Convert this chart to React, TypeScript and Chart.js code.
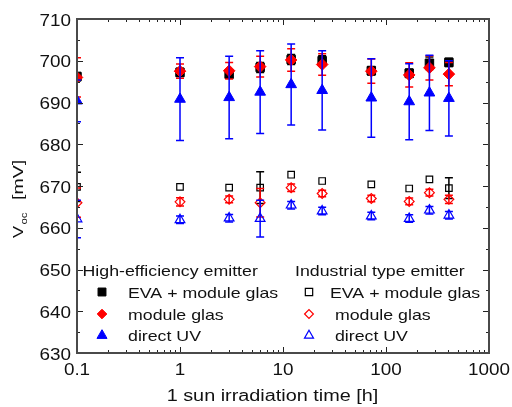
import React, { useEffect, useRef } from 'react';
import { Chart, registerables } from 'chart.js';
import { drawPoint } from 'chart.js/helpers';

Chart.register(...registerables);

// ---- data ----
const times = [0.1, 1, 3, 6, 12, 24, 72, 168, 264, 408];

const heEva = [696.2, 697.2, 696.8, 698.4, 700.3, 700.0, 697.6, 697.0, 699.4, 699.6];
const heEvaErr = [1.0, 1.0, 1.0, 1.2, 1.2, 1.2, 1.0, 1.0, 1.5, 1.0];
const heGlas = [696.0, 697.5, 697.6, 698.6, 700.2, 699.1, 697.5, 696.6, 698.3, 696.8];
const heGlasErr = [4.7, 1.7, 2.0, 2.5, 2.7, 2.6, 2.9, 2.9, 2.9, 2.8];
const heUV = [690.4, 690.8, 691.2, 692.5, 694.3, 692.9, 691.1, 690.2, 692.3, 691.0];
const heUVErr = [5.0, 9.9, 9.9, 9.9, 9.7, 9.5, 9.4, 9.1, 9.0, 9.0];

const indEva = [669.8, 669.8, 669.6, 669.6, 672.7, 671.2, 670.4, 669.4, 671.6, 669.5];
const indEvaErr = [3.5, 0, 0, 3.8, 0, 0, 0, 0, 0, 2.5];
const indGlas = [666.0, 666.2, 666.8, 666.0, 669.6, 668.2, 667.0, 666.3, 668.4, 666.8];
const indGlasErr = [3.5, 1.0, 0.8, 3.4, 0.9, 0.8, 0.8, 0.8, 0.8, 1.0];
const indUV = [662.1, 661.9, 662.3, 662.2, 665.4, 664.0, 662.8, 662.2, 664.2, 663.0];
const indUVErr = [4.5, 0.9, 0.9, 4.4, 0.9, 0.9, 0.9, 0.9, 0.9, 0.9];

const xLabelValues = [0.1, 1, 10, 100, 1000];
const xLabelTexts = ['0.1', '1', '10', '100', '1000'];
const yLabelValues = [630, 640, 650, 660, 670, 680, 690, 700, 710];
const groupTitles = ['High-efficiency emitter', 'Industrial type emitter'];
const seriesNames = ['EVA + module glas', 'module glas', 'direct UV'];
const xTitle = '1 sun irradiation time [h]';

const FONT = '"Liberation Sans", Arial, Helvetica, sans-serif';

function sText(ctx: CanvasRenderingContext2D, text: string, x: number, y: number, size: number, sx: number, align: string) {
  ctx.save();
  ctx.font = `${size}px ${FONT}`;
  const w = ctx.measureText(text).width * sx;
  const left = align === 'center' ? x - w / 2 : align === 'right' ? x - w : x;
  ctx.translate(left, y);
  ctx.scale(sx, 1);
  ctx.textAlign = 'left';
  ctx.textBaseline = 'alphabetic';
  ctx.fillStyle = '#111';
  ctx.fillText(text, 0, 0);
  ctx.restore();
}

const isPow10 = (v: number) => Math.abs(Math.log10(v) - Math.round(Math.log10(v))) < 1e-6;

function mk(group: number, idx: number, vals: number[], errs: number[], style: string, color: string, filled: boolean, radius: number) {
  return {
    label: groupTitles[group] + ': ' + seriesNames[idx],
    group, idx,
    data: times.map((t, i) => ({ x: t, y: vals[i] })),
    errors: errs,
    pointStyle: style,
    pointRadius: radius,
    pointHoverRadius: radius,
    borderColor: color,
    backgroundColor: filled ? color : 'rgba(0,0,0,0)',
    pointBorderWidth: filled ? 1 : 1.2,
    showLine: false,
    clip: 0,
  };
}

const errorBarPlugin = {
  id: 'errbars',
  afterDatasetDraw(chart: any, args: any) {
    const ds = chart.data.datasets[args.index];
    if (!ds.errors) return;
    const { ctx, chartArea: a, scales } = chart;
    const x = scales.x, y = scales.y;
    ctx.save();
    ctx.beginPath();
    ctx.rect(a.left, a.top, a.right - a.left, a.bottom - a.top);
    ctx.clip();
    ctx.strokeStyle = ds.borderColor;
    ctx.lineWidth = 1.5;
    ds.data.forEach((p: any, i: number) => {
      const e = ds.errors[i];
      if (!e) return;
      const px = x.getPixelForValue(p.x);
      const y1 = y.getPixelForValue(p.y + e);
      const y2 = y.getPixelForValue(p.y - e);
      ctx.beginPath();
      ctx.moveTo(px, y1); ctx.lineTo(px, y2);
      ctx.moveTo(px - 4, y1); ctx.lineTo(px + 4, y1);
      ctx.moveTo(px - 4, y2); ctx.lineTo(px + 4, y2);
      ctx.stroke();
    });
    ctx.restore();
  },
};

const framePlugin = {
  id: 'frame',
  beforeDraw(chart: any) {
    const { ctx, width, height } = chart;
    ctx.save();
    ctx.fillStyle = '#fff';
    ctx.fillRect(0, 0, width, height);
    ctx.restore();
  },
  afterDraw(chart: any) {
    const { ctx, chartArea: a, scales } = chart;
    const x = scales.x, y = scales.y;
    ctx.save();
    // tick marks (inward, mirrored)
    ctx.strokeStyle = '#222';
    ctx.lineWidth = 1;
    ctx.beginPath();
    x.ticks.forEach((t: any) => {
      const px = Math.round(x.getPixelForValue(t.value)) + 0.5;
      const L = isPow10(t.value) ? 6 : 3;
      ctx.moveTo(px, a.bottom); ctx.lineTo(px, a.bottom - L);
      ctx.moveTo(px, a.top); ctx.lineTo(px, a.top + L);
    });
    y.ticks.forEach((t: any) => {
      const py = Math.round(y.getPixelForValue(t.value)) + 0.5;
      const L = t.value % 10 === 0 ? 6 : 3;
      ctx.moveTo(a.left, py); ctx.lineTo(a.left + L, py);
      ctx.moveTo(a.right, py); ctx.lineTo(a.right - L, py);
    });
    ctx.stroke();
    // frame
    ctx.strokeStyle = '#4a4a4a';
    ctx.lineWidth = 2;
    ctx.strokeRect(a.left, a.top, a.right - a.left, a.bottom - a.top);
    ctx.restore();

    // tick labels
    yLabelValues.forEach((v) => {
      const py = y.getPixelForValue(v);
      sText(ctx, String(v), a.left - 6, py + 6.5, 16, 1.18, 'right');
    });
    xLabelValues.forEach((v, i) => {
      const px = x.getPixelForValue(v);
      sText(ctx, xLabelTexts[i], px, a.bottom + 22, 16, 1.18, 'center');
    });

    // x title
    sText(ctx, xTitle, a.left + 195.5, 400.5, 16, 1.24, 'center');

    // y title (rotated, with subscript)
    ctx.save();
    ctx.translate(23, 238);
    ctx.rotate(-Math.PI / 2);
    sText(ctx, 'V', 0, 0, 15, 1.22, 'left');
    sText(ctx, 'oc', 13.5, 4.2, 9.5, 1.2, 'left');
    sText(ctx, '[mV]', 38, 0, 15, 1.3, 'left');
    ctx.restore();

    // legend
    const colX = [a.left + 5.5, a.left + 218];
    const markX = [a.left + 25, a.left + 232];
    const textX = [a.left + 51, a.left + 253];
    const titleBase = 276;
    const rowBase = [297.5, 319.5, 341];
    for (let g = 0; g < 2; g++) {
      sText(ctx, groupTitles[g], colX[g], titleBase, 14.8, 1.2, 'left');
    }
    chart.data.datasets.forEach((ds: any) => {
      const g = ds.group, r = ds.idx;
      const lbl = g === 1 && r > 0 ? ' ' + seriesNames[r] : seriesNames[r];
      sText(ctx, lbl, textX[g], rowBase[r], 14.8, 1.2, 'left');
      ctx.save();
      ctx.fillStyle = ds.backgroundColor;
      ctx.strokeStyle = ds.borderColor;
      ctx.lineWidth = ds.pointBorderWidth;
      const rad = ds.pointStyle === 'rect' ? (g === 0 ? 5.6 : 5.2) : ds.pointStyle === 'rectRot' ? (g === 0 ? 4.8 : 4.4) : (g === 0 ? 5.8 : 5.2);
      drawPoint(ctx, { pointStyle: ds.pointStyle, radius: rad, rotation: 0, borderWidth: ds.pointBorderWidth }, markX[g], rowBase[r] - 5.5);
      ctx.restore();
    });
  },
};

export default function App() {
  const ref = useRef<HTMLCanvasElement | null>(null);
  useEffect(() => {
    if (!ref.current) return;
    const datasets = [
      mk(0, 2, heUV, heUVErr, 'triangle', '#0000ff', true, 6.2),
      mk(0, 1, heGlas, heGlasErr, 'rectRot', '#ff0000', true, 5.8),
      mk(0, 0, heEva, heEvaErr, 'rect', '#000000', true, 6.0),
      mk(1, 2, indUV, indUVErr, 'triangle', '#0000ff', false, 5.6),
      mk(1, 1, indGlas, indGlasErr, 'rectRot', '#ff0000', false, 4.9),
      mk(1, 0, indEva, indEvaErr, 'rect', '#000000', false, 4.6),
    ];
    const chart = new Chart(ref.current, {
      type: 'scatter',
      data: { datasets: datasets as any },
      options: {
        animation: false,
        responsive: false,
        events: [],
        layout: { padding: { left: 0, top: 19, right: 23, bottom: 0 } },
        plugins: { legend: { display: false }, tooltip: { enabled: false } },
        scales: {
          x: {
            type: 'logarithmic',
            min: 0.1,
            max: 1000,
            grid: { display: false },
            border: { display: false },
            ticks: { display: false },
            afterBuildTicks: (s: any) => {
              const t: any[] = [];
              for (let e = -1; e <= 2; e++) {
                for (let k = 1; k <= 9; k++) t.push({ value: Number((k * Math.pow(10, e)).toPrecision(6)) });
              }
              t.push({ value: 1000 });
              s.ticks = t;
            },
            afterFit: (s: any) => { s.height = 54; },
          },
          y: {
            min: 630,
            max: 710,
            grid: { display: false },
            border: { display: false },
            ticks: { display: false, stepSize: 5 },
            afterFit: (s: any) => { s.width = 77; },
          },
        },
      },
      plugins: [framePlugin, errorBarPlugin],
    });
    return () => chart.destroy();
  }, []);
  return (
    <div style={{ position: 'absolute', left: 0, top: 0, width: 512, height: 407, background: '#fff' }}>
      <canvas ref={ref} width={512} height={407} style={{ display: 'block' }} />
    </div>
  );
}
